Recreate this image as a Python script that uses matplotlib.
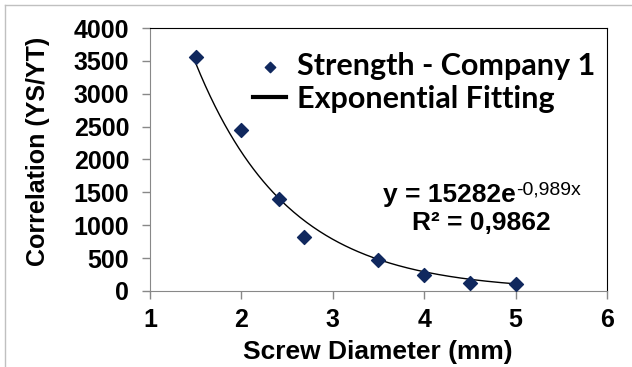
import numpy as np
import matplotlib
matplotlib.use('Agg')
import matplotlib.pyplot as plt
from matplotlib.lines import Line2D

# screw diameter (mm) vs correlation YS/YT
diameter = [1.5, 2.0, 2.41, 2.69, 3.5, 4.0, 4.5, 5.0]
correlation = [3560, 2450, 1400, 815, 465, 238, 125, 112]

# trend line parameters as printed on the chart
fit_a = 15282
fit_b = -0.989
fit_r2 = '0,9862'

xticks = [1, 2, 3, 4, 5, 6]
yticks = [0, 500, 1000, 1500, 2000, 2500, 3000, 3500, 4000]

fig = plt.figure(figsize=(6.32, 3.67), dpi=100)
ax = fig.add_axes([0.2373, 0.2071, 0.7231, 0.7166])

# outer chart frame (only top and left edges visible in the crop)
fig.lines.append(Line2D([0.008, 1.0], [0.986, 0.986], transform=fig.transFigure,
                        color='#c0c0c0', linewidth=1))
fig.lines.append(Line2D([0.008, 0.008], [0.0, 0.986], transform=fig.transFigure,
                        color='#c0c0c0', linewidth=1))

xs = np.linspace(diameter[0], diameter[-1], 200)
ax.plot(xs, fit_a * np.exp(fit_b * xs), color='black', linewidth=1.0, zorder=2,
        label='Exponential Fitting')
ax.scatter(diameter, correlation, marker='D', s=50, color='#10285e', zorder=3,
           label='Strength - Company 1')

ax.set_xlim(1, 6)
ax.set_ylim(0, 4000)
ax.set_xticks(xticks)
ax.set_yticks(yticks)

tickfont = dict(family='Liberation Sans', weight='bold', size=18)
ax.set_xticklabels([str(t) for t in xticks], **tickfont)
ax.set_yticklabels([str(t) for t in yticks], **tickfont)
ax.tick_params(direction='out', length=6, width=1, color='#888888')
ax.tick_params(axis='y', pad=9)
ax.tick_params(axis='x', pad=6)

for s in ['left', 'bottom']:
    ax.spines[s].set_color('#888888')
for s in ['top', 'right']:
    ax.spines[s].set_color('black')

ax.set_xlabel('Screw Diameter (mm)', fontsize=19, fontweight='bold',
              family='Liberation Sans')
ax.set_ylabel('Correlation (YS/YT)', fontsize=18, fontweight='bold',
              family='Liberation Sans')
ax.xaxis.set_label_coords(0.499, -0.185)
ax.yaxis.set_label_coords(-0.218, 0.53)

handles, labels = ax.get_legend_handles_labels()
leg = ax.legend(handles[::-1], labels[::-1], loc='upper right', frameon=False,
                prop=dict(family='Lato', weight='bold', size=22),
                handlelength=1.08, handletextpad=0.33, borderaxespad=0.0,
                labelspacing=0.15, bbox_to_anchor=(1.0, 0.955))
leg.legend_handles[0].set_sizes([28])
leg.legend_handles[1].set_linewidth(3)

t1 = ax.text(0.51, 0.34, 'y = 15282e', transform=ax.transAxes, ha='left',
             va='baseline', fontsize=19, fontweight='bold', family='Liberation Sans')
ax.annotate('-0,989x', xy=(1.0, 1.0), xycoords=t1, ha='left', va='top',
            xytext=(0, 1), textcoords='offset points',
            fontsize=14, family='Liberation Sans')
ax.text(0.726, 0.231, 'R² = ' + fit_r2, transform=ax.transAxes, ha='center',
        va='baseline', fontsize=19, fontweight='bold', family='Liberation Sans')

plt.savefig('out.png', dpi=100)
